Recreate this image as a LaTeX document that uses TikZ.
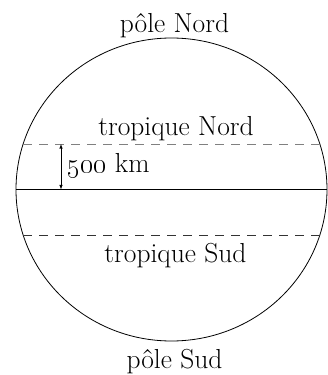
\RequirePackage{fix-cm}
\documentclass[tikz,border=0pt]{standalone}
\usepackage{amsmath}
\usepackage{tikz}

\begin{document}
\begin{tikzpicture}[x = 1pt, y = 1pt, line width = 0.8pt, font = \fontsize{27.5}{32}\selectfont]
        \useasboundingbox (-171.5, -185.5) rectangle (156.5, 189.5);
        \clip (-171.5, -185.5) rectangle (156.5, 189.5);
        \draw (0, 0) ellipse (155.5 and 151.5);
        \draw (-155.5, 0) -- (155.5, 0);
        \draw [dashed, gray, dash pattern = on 9pt off 7pt] (-148.3, 45.5) -- (148.3, 45.5);
        \draw [dashed, black!80, dash pattern = on 9pt off 7pt] (-148.3, -45.5) -- (148.3, -45.5);
        \coordinate (h) at (-110.5, 45.5);
        \coordinate (e) at (-110.5, 0);
        \draw [latex-latex, line width = 0.6pt] (h) -- (e);
        \node (dist) at (-104, 16.5) [anchor = base west, inner sep = 0] {\oldstylenums{500} km};
        \node (pn) at (3, 156.5) [anchor = base, inner sep = 0] {pôle Nord};
        \node (tn) at (4.5, 54.5) [anchor = base, inner sep = 0] {tropique Nord};
        \node (ts) at (4, -72.5) [anchor = base, inner sep = 0] {tropique Sud};
        \node (ps) at (3, -178.5) [anchor = base, inner sep = 0] {pôle Sud};
    \end{tikzpicture}
\end{document}
